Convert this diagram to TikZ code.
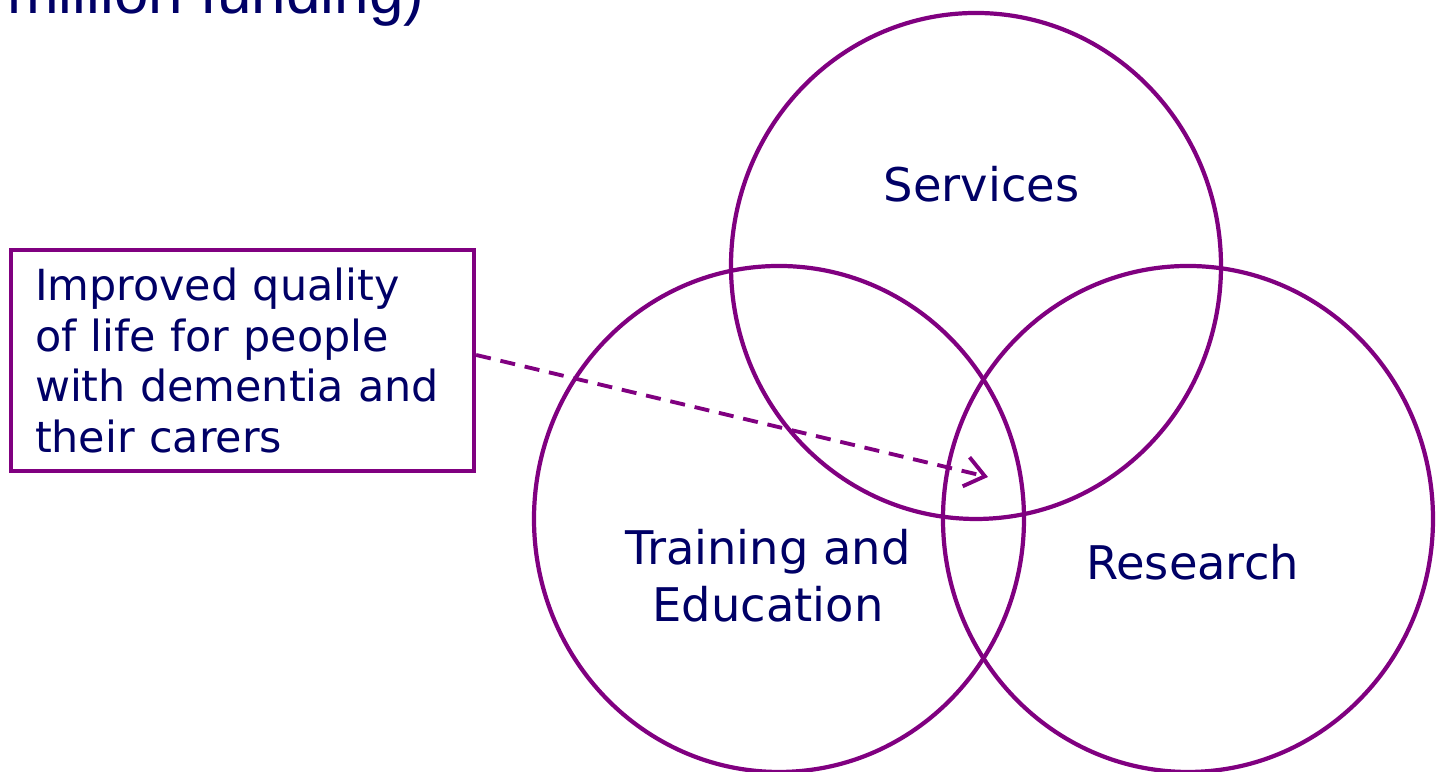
\documentclass[tikz,border=0pt]{standalone}
\usepackage{fontspec}
\setmainfont{DejaVu Sans}
\newfontfamily\headfont{Liberation Sans}
\usepackage{xcolor}
\usetikzlibrary{shapes,positioning,arrows.meta}
\definecolor{venn}{HTML}{800080}
\definecolor{ink}{HTML}{000066}

\begin{document}
\begin{tikzpicture}[
    area/.style={ellipse, draw=venn, line width=1.2pt, minimum width=4.9cm, minimum height=5.06cm, inner sep=0pt},
    areatext/.style={text=ink, inner sep=0pt, font=\fontsize{13.2}{16.2}\selectfont},
    note/.style={rectangle, draw=venn, line width=1.2pt, minimum height=2.21cm, inner xsep=0.24cm, text width=4.15cm, align=left, text=ink, font=\fontsize{12.2}{14.43}\selectfont}]
    \useasboundingbox (0,0) rectangle (14.39,7.72);
    % the three areas
    \node[area] (services) at (9.76,5.06) {};
    \node[area] (training) at (7.79,2.53) {};
    \node[area] (research) at (11.88,2.53) {};
    \node[areatext, anchor=base] (servicestext) at (9.815,5.70) {Services};
    \node[areatext, align=center] (trainingtext) at (7.68,1.96) {Training and\\Education};
    \node[areatext, anchor=base] (researchtext) at (11.925,1.92) {Research};
    % outcome box
    \node[note] (quality) at (2.425,4.115) {Improved quality\\of life for people\\with dementia and\\their carers};
    \coordinate (tip) at (9.88,2.95);
    \draw[venn, line width=1.1pt, dash pattern=on 4.3pt off 2.8pt, -{Straight Barb[length=5.5pt,width=8.5pt]}] ([yshift=0.55mm]quality.east) -- (tip);
    % cut-off heading
    \node[font=\headfont\fontsize{17.64}{20}\selectfont, text=ink, anchor=base east, inner sep=0pt] (funding) at (4.25,7.58) {million funding)};
\end{tikzpicture}
\end{document}
